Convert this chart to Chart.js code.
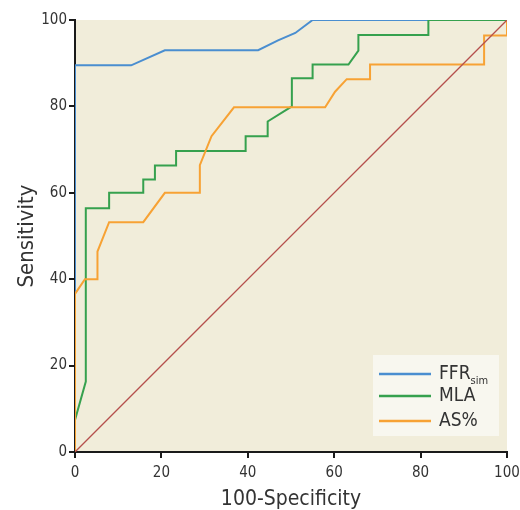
<!DOCTYPE html>
<html>
<head>
<meta charset="utf-8">
<script src="https://cdn.jsdelivr.net/npm/chart.js@4.4.1/dist/chart.umd.min.js"></script>
<style>
html,body{margin:0;padding:0;background:#fff;}
#wrap{width:520px;height:510px;position:relative;}
</style>
</head>
<body>
<div id="wrap"><canvas id="c" width="520" height="510"></canvas></div>
<script>
// ---- data (100-Specificity, Sensitivity) ----
const xTicks = [0, 20, 40, 60, 80, 100];
const yTicks = [0, 20, 40, 60, 80, 100];

const ffrX = [0, 0, 13, 20.8, 42.4, 47, 51, 55, 100];
const ffrY = [0, 89.5, 89.5, 93, 93, 95.3, 97, 100, 100];

const mlaX = [0, 2.5, 2.5, 7.9, 7.9, 15.8, 15.8, 18.5, 18.5, 23.4, 23.4, 39.5, 39.5, 44.6, 44.6, 50.2, 50.2, 55, 55, 63.3, 65.6, 65.6, 81.8, 81.8, 100];
const mlaY = [7.4, 16.3, 56.4, 56.4, 60, 60, 63.1, 63.1, 66.3, 66.3, 69.7, 69.7, 73.1, 73.1, 76.5, 80, 86.5, 86.5, 89.7, 89.7, 92.9, 96.5, 96.5, 100, 100];

const asX = [0, 0, 2.3, 5.2, 5.2, 7.9, 15.8, 20.8, 28.9, 28.9, 31.6, 36.8, 57.9, 60.2, 62.9, 68.3, 68.3, 94.7, 94.7, 100, 100];
const asY = [0, 36.6, 40, 40, 46.4, 53.2, 53.2, 60, 60, 66.4, 73.1, 79.8, 79.8, 83.4, 86.3, 86.3, 89.7, 89.7, 96.4, 96.4, 100];

const refX = [0, 100];
const refY = [0, 100];

const seriesNames = ['FFR', 'MLA', 'AS%'];
const seriesColors = ['#4a8ed0', '#36a14e', '#f7a234'];

function pts(xs, ys){ return xs.map((x,i)=>({x:x, y:ys[i]})); }

const FONT = "'Liberation Sans Narrow','DejaVu Sans Condensed','Liberation Sans',sans-serif";

const bgPlugin = {
  id:'bg',
  beforeDraw(chart){
    const {ctx, chartArea:a} = chart;
    ctx.save();
    ctx.fillStyle = '#f1edda';
    ctx.fillRect(a.left, a.top, a.right-a.left, a.bottom-a.top);
    ctx.restore();
  }
};

const legendPlugin = {
  id:'customLegend',
  afterDraw(chart){
    const ctx = chart.ctx;
    ctx.save();
    ctx.fillStyle = '#f8f7ef';
    ctx.fillRect(373, 355, 126, 81);
    const rows = [374, 396, 421];
    ctx.textBaseline = 'middle';
    ctx.textAlign = 'left';
    rows.forEach((y,i)=>{
      ctx.strokeStyle = seriesColors[i];
      ctx.lineWidth = 2.5;
      ctx.beginPath(); ctx.moveTo(379, y); ctx.lineTo(431, y); ctx.stroke();
      ctx.fillStyle = '#333333';
      ctx.font = '19px ' + FONT;
      ctx.fillText(seriesNames[i], 439, y);
      if(i===0){
        const w = ctx.measureText(seriesNames[i]).width;
        ctx.font = '11px ' + FONT;
        ctx.fillText('sim', 439 + w, y + 7);
      }
    });
    ctx.restore();
  }
};

new Chart(document.getElementById('c'), {
  type:'line',
  data:{
    datasets:[
      {label:'ref', data:pts(refX, refY), borderColor:'#b5504d', borderWidth:1.3, pointRadius:0, order:0},
      {label:'AS%', data:pts(asX, asY), borderColor:seriesColors[2], borderWidth:2, pointRadius:0, order:1},
      {label:'MLA', data:pts(mlaX, mlaY), borderColor:seriesColors[1], borderWidth:2, pointRadius:0, order:2},
      {label:'FFR', data:pts(ffrX, ffrY), borderColor:seriesColors[0], borderWidth:2, pointRadius:0, order:3}
    ]
  },
  options:{
    responsive:false,
    animation:false,
    layout:{padding:{top:20, right:13, left:10, bottom:0}},
    plugins:{legend:{display:false}, tooltip:{enabled:false}},
    elements:{line:{tension:0}},
    scales:{
      x:{
        type:'linear', min:0, max:100,
        afterBuildTicks(s){ s.ticks = xTicks.map(v=>({value:v})); },
        afterFit(s){ s.height = 58; s.paddingLeft = 0; s.paddingRight = 0; },
        border:{display:true, color:'#1a1a1a', width:2},
        grid:{display:true, drawOnChartArea:false, drawTicks:true, tickLength:6, color:'#1a1a1a', lineWidth:2},
        ticks:{color:'#333333', font:{family:FONT, size:15}, padding:6, maxRotation:0},
        title:{display:true, text:'100-Specificity', color:'#333333', font:{family:FONT, size:21, lineHeight:1.0}, padding:{top:0, bottom:0}}
      },
      y:{
        type:'linear', min:0, max:100,
        afterBuildTicks(s){ s.ticks = yTicks.map(v=>({value:v})); },
        afterFit(s){ s.width = 65; s.paddingTop = 0; s.paddingBottom = 0; },
        border:{display:true, color:'#1a1a1a', width:2},
        grid:{display:true, drawOnChartArea:false, drawTicks:true, tickLength:6, color:'#1a1a1a', lineWidth:2},
        ticks:{color:'#333333', font:{family:FONT, size:15}, padding:2},
        title:{display:true, text:'Sensitivity', color:'#333333', font:{family:FONT, size:22}, padding:{bottom:4}}
      }
    }
  },
  plugins:[bgPlugin, legendPlugin]
});
</script>
</body>
</html>
